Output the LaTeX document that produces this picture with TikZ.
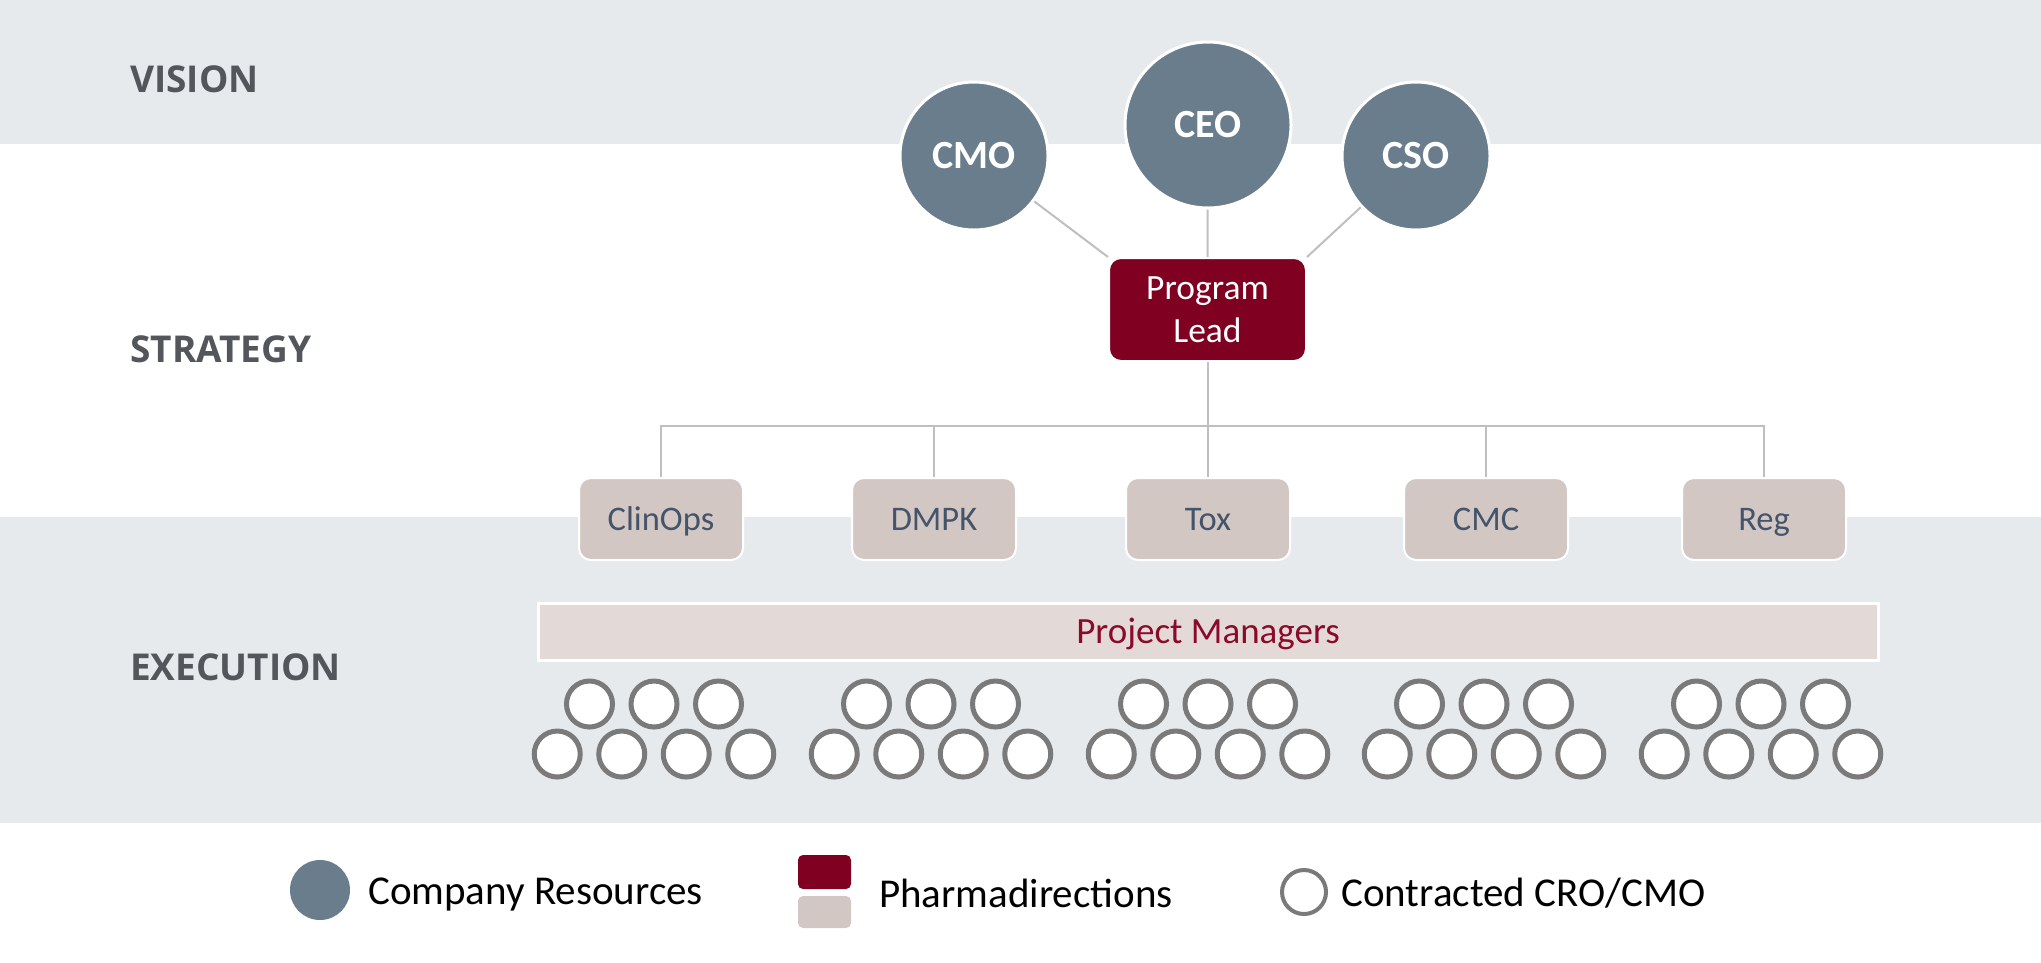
\documentclass[tikz,border=0pt]{standalone}
\usepackage{fontspec}
\setmainfont{Carlito}
\newfontfamily\labelfont{Open Sans}
\definecolor{band}{HTML}{E7EAED}
\definecolor{lblc}{HTML}{53565A}
\definecolor{slate}{HTML}{6A7D8C}
\definecolor{wine}{HTML}{7F0020}
\definecolor{beige}{HTML}{D3C7C3}
\definecolor{beigelt}{HTML}{E3DAD8}
\definecolor{boxtext}{HTML}{44546A}
\definecolor{pmtext}{HTML}{8B0A2A}
\definecolor{ringc}{HTML}{7A7A7A}
\definecolor{linec}{HTML}{BFBFBF}
\tikzset{
  lbl/.style={anchor=west, inner sep=0pt, text=lblc, font=\labelfont\bfseries\fontsize{37}{44}\selectfont},
  exec/.style={circle, fill=slate, draw=white, line width=3pt, inner sep=0pt, text=white, font=\bfseries\fontsize{40}{48}\selectfont},
  leadbox/.style={rectangle, rounded corners=12pt, fill=wine, draw=white, line width=2pt, minimum width=197pt, minimum height=103pt, inner sep=0pt, text=white, align=center, font=\fontsize{35.5}{43}\selectfont},
  funcbox/.style={rectangle, rounded corners=12pt, fill=beige, draw=white, line width=2pt, minimum width=164pt, minimum height=82pt, inner sep=0pt, text height=23pt, text depth=0pt, text=boxtext, font=\fontsize{34.5}{40}\selectfont},
  pmbar/.style={rectangle, fill=beigelt, draw=white, line width=3pt, minimum width=1340pt, minimum height=57pt, inner sep=0pt, text height=24pt, text depth=0pt, text=pmtext, font=\fontsize{37}{44}\selectfont},
  ring/.style={circle, fill=white, draw=ringc, line width=5pt, minimum size=46pt, inner sep=0pt},
  conn/.style={draw=linec, line width=2pt},
  legtext/.style={anchor=west, inner sep=0pt, text=black, font=\fontsize{41}{48}\selectfont},
}
\begin{document}
\begin{tikzpicture}[x=1pt,y=-1pt]
\useasboundingbox (0,0) rectangle (2041,962);
\fill[white] (0,0) rectangle (2041,962);
\fill[band] (0,0) rectangle (2041,144);
\fill[band] (0,517) rectangle (2041,823);

% level labels
\node[lbl] (vision) at (130,79) {VISION};
\node[lbl] (strategy) at (130,349) {STRATEGY};
\node[lbl] (execution) at (130,667) {EXECUTION};

% executives
\node[exec, minimum size=148pt] (cmo) at (974,156) {CMO};
\node[exec, minimum size=166pt] (ceo) at (1208,125) {CEO};
\node[exec, minimum size=148pt] (cso) at (1416,156) {CSO};

% program lead
\node[leadbox] (pl) at (1207.5,309.5) {Program\\Lead};

\draw[conn] (cmo) -- (pl.north west);
\draw[conn] (ceo) -- (pl.north);
\draw[conn] (cso) -- (pl.north east);

% functions
\node[funcbox] (clinops) at (661,519) {ClinOps};
\node[funcbox] (dmpk) at (934,519) {DMPK};
\node[funcbox] (tox) at (1208,519) {Tox};
\node[funcbox] (cmc) at (1486,519) {CMC};
\node[funcbox] (reg) at (1764,519) {Reg};

\coordinate (bus) at (1207.5,426);
\draw[conn] (pl.south) -- (bus);
\draw[conn] (clinops.north) |- (bus) -| (reg.north);
\foreach \b in {dmpk,tox,cmc}{
  \draw[conn] (\b.north) -- (\b.north |- bus);
}

% project managers
\node[pmbar] (pm) at (1208,631.5) {Project Managers};

% contracted rings
\foreach \g/\gx in {1/654,2/931,3/1208,4/1484,5/1761}{
  \foreach \i/\dx in {1/-64.5,2/0,3/64.5}{
    \node[ring] (t-\g-\i) at (\gx+\dx,704) {};
  }
  \foreach \i/\dx in {1/-96.75,2/-32.25,3/32.25,4/96.75}{
    \node[ring] (b-\g-\i) at (\gx+\dx,754) {};
  }
}

% legend
\node[circle, fill=slate, minimum size=60pt, inner sep=0pt] (legco) at (320,890) {};
\node[legtext] (legcot) at (368,894) {Company Resources};
\node[rectangle, rounded corners=5pt, fill=wine, minimum width=53pt, minimum height=34pt, inner sep=0pt] (legph1) at (824.5,872) {};
\node[rectangle, rounded corners=5pt, fill=beige, minimum width=53pt, minimum height=32pt, inner sep=0pt] (legph2) at (824.5,912) {};
\node[legtext] (legpht) at (879,893) {Pharmadirections};
\node[circle, fill=white, draw=ringc, line width=4pt, minimum size=44pt, inner sep=0pt] (legcr) at (1304,892) {};
\node[legtext] (legcrt) at (1341,893) {Contracted CRO/CMO};
\end{tikzpicture}
\end{document}
